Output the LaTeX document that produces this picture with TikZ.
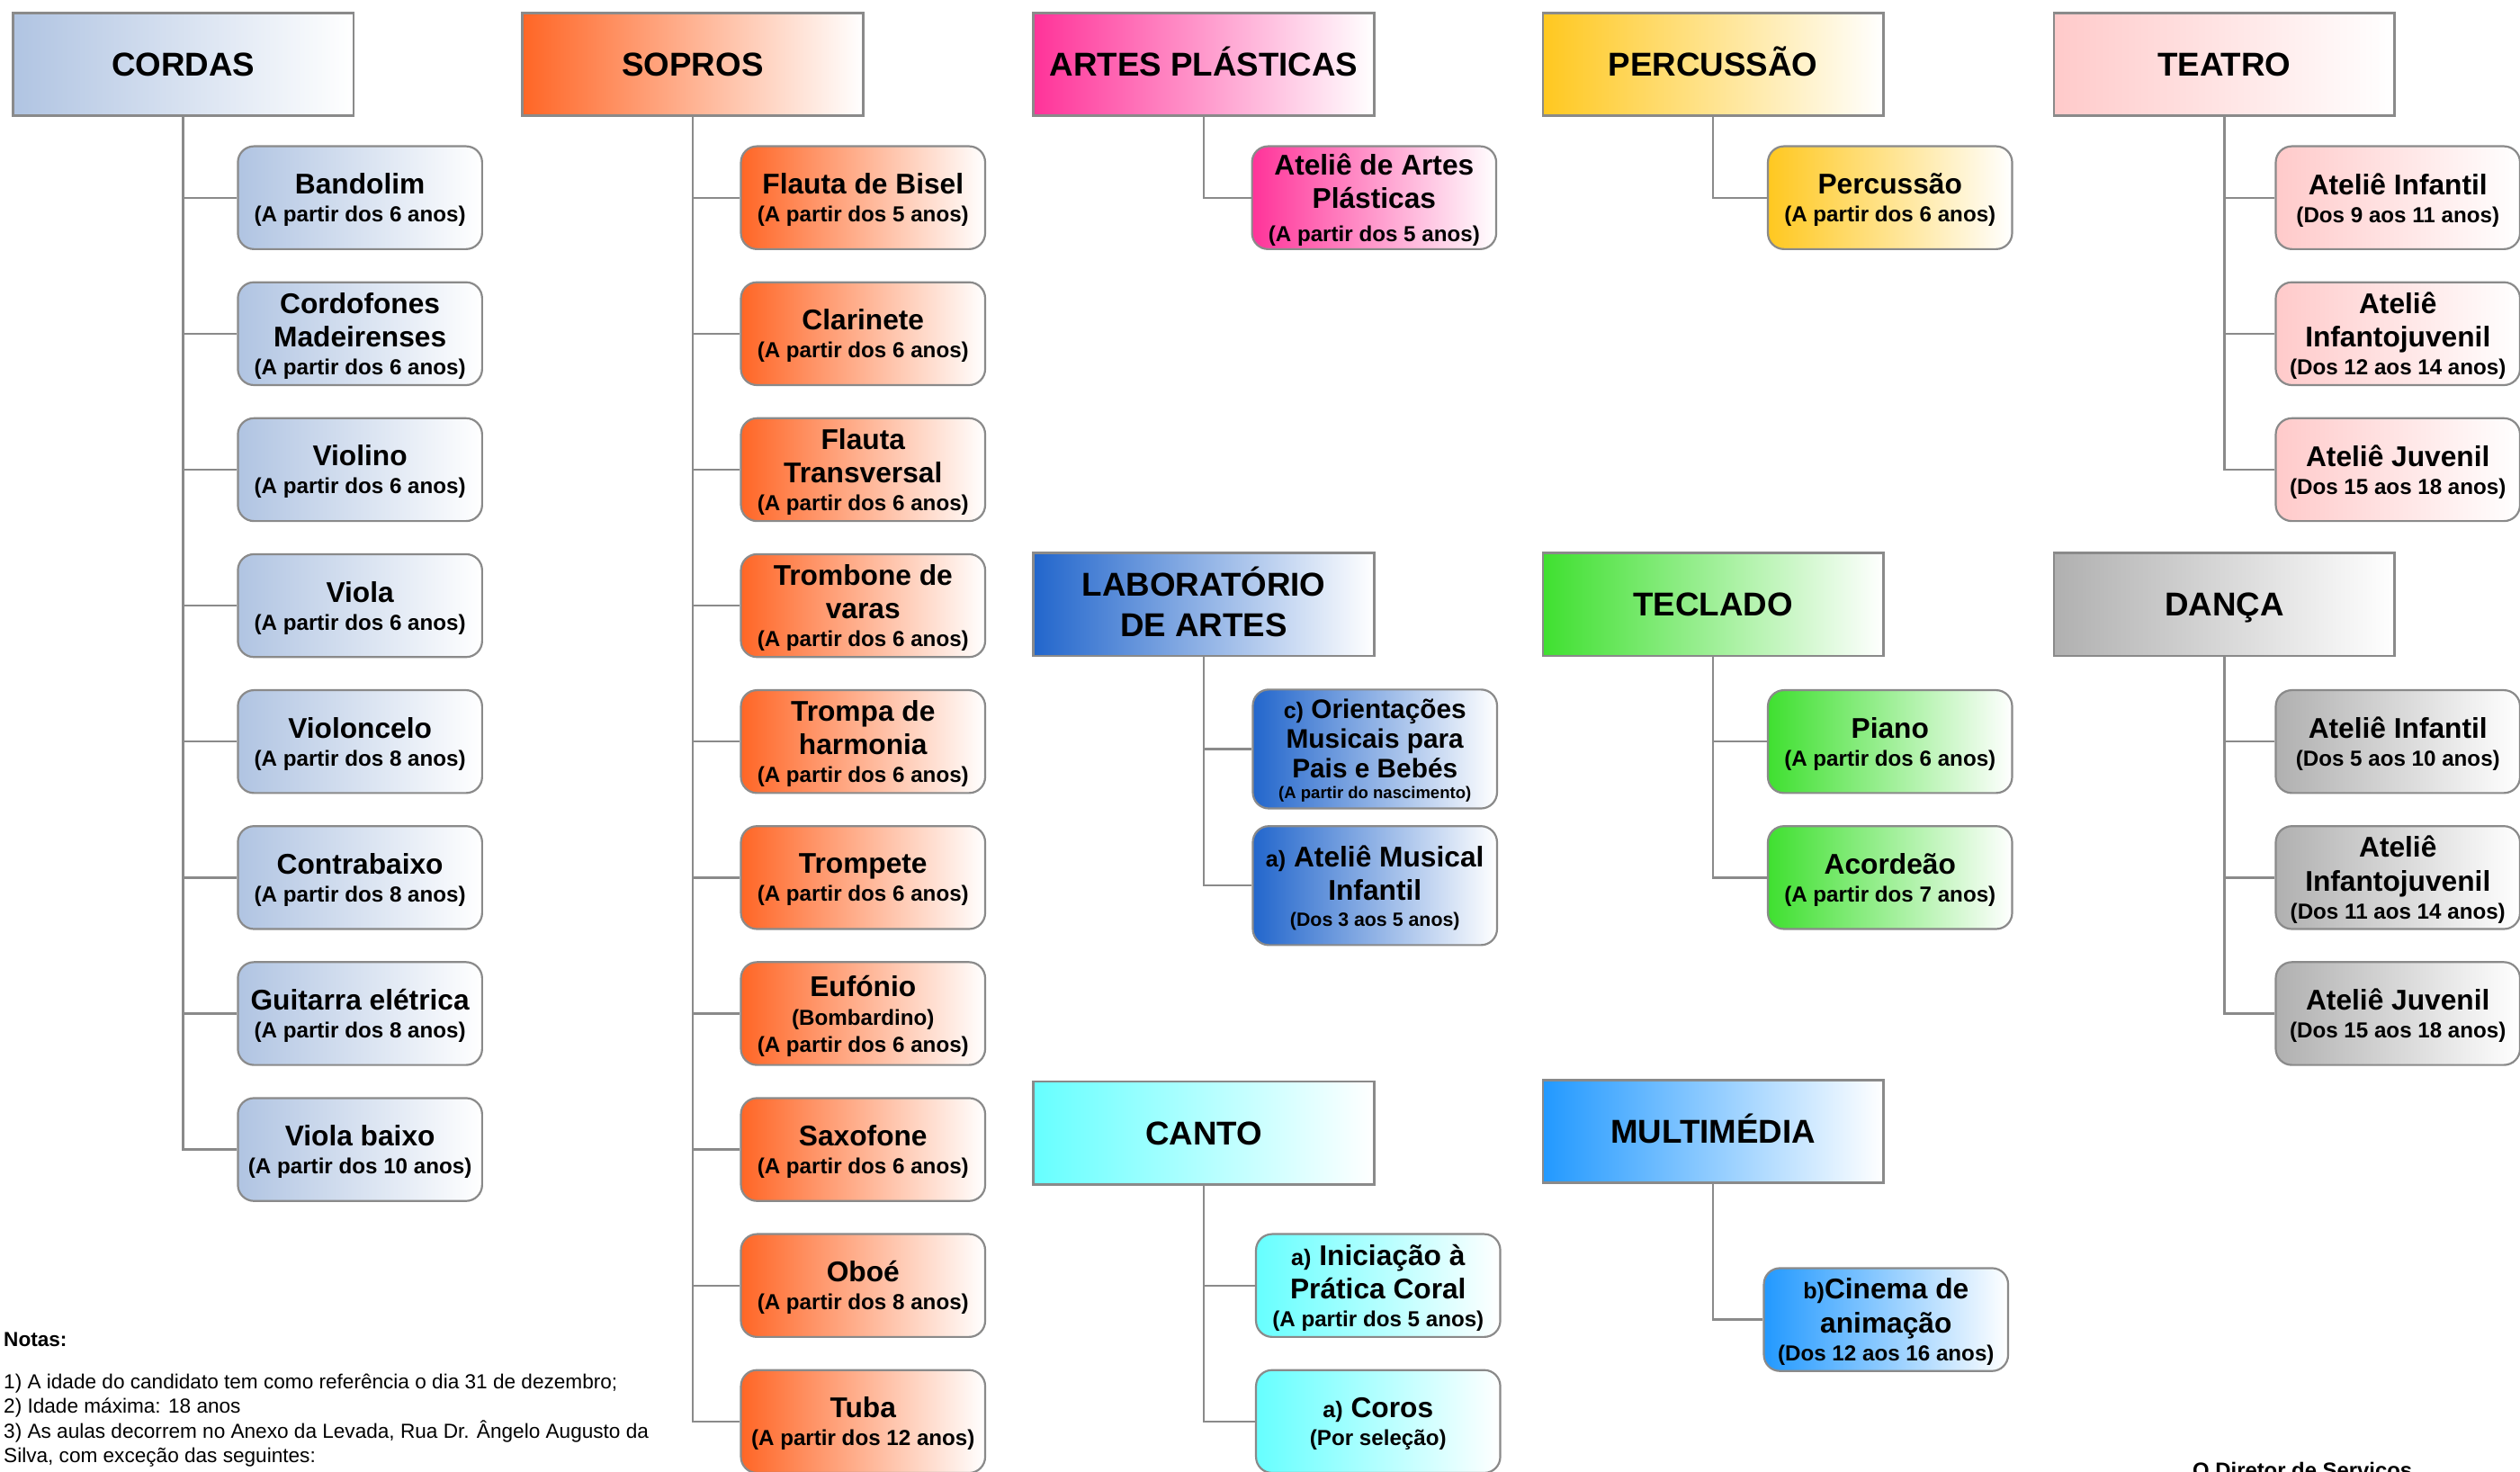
\documentclass[tikz,border=0pt]{standalone}
\usepackage{fontspec}
\setmainfont{Liberation Sans}
\definecolor{lineg}{HTML}{8A8A8A}
\definecolor{cCord}{HTML}{B0C4E2}
\definecolor{cSop}{HTML}{FF6626}
\definecolor{cArt}{HTML}{FF3399}
\definecolor{cPerc}{HTML}{FFC820}
\definecolor{cTea}{HTML}{FFCACA}
\definecolor{cLab}{HTML}{2266CC}
\definecolor{cTec}{HTML}{3FE030}
\definecolor{cDan}{HTML}{B0B0B0}
\definecolor{cCan}{HTML}{66FFFF}
\definecolor{cMul}{HTML}{2299FF}
\newcommand\sub[1]{{\fontsize{7.7}{9}\selectfont #1}}
\newcommand\pre[1]{{\fontsize{8}{9}\selectfont #1}}
\begin{document}
\begin{tikzpicture}[x=0.02cm,y=-0.02cm,
  fillc/.style={left color=#1, right color=white},
  hdr/.style={draw=lineg, line width=0.8pt, minimum width=4.24cm, minimum height=1.28cm,
    inner sep=0pt, align=center, font=\fontsize{11.7}{14.2}\selectfont\bfseries,
    text height=8.4pt, text depth=0pt},
  kid/.style={draw=lineg, line width=0.7pt, rounded corners=0.2cm, minimum width=3.04cm,
    minimum height=1.28cm, inner sep=0pt, align=center, font=\fontsize{10.1}{11.9}\selectfont\bfseries,
    text depth=0pt},
  tall/.style={minimum height=1.48cm},
  conn/.style={draw=lineg, line width=0.75pt},
  note/.style={anchor=base west, inner sep=0pt, font=\fontsize{7.2}{8.6}\selectfont}]
\useasboundingbox (0,0) rectangle (1568,915.3);

% headers
\node[hdr, fillc=cCord] (cordas) at (114,40) {CORDAS};
\node[hdr, fillc=cSop] (sopros) at (431,40) {SOPROS};
\node[hdr, fillc=cArt] (artes) at (749,40) {ARTES PLÁSTICAS};
\node[hdr, fillc=cPerc] (perc) at (1066,40) {PERCUSSÃO};
\node[hdr, fillc=cTea] (teatro) at (1384,40) {TEATRO};
\node[hdr, fillc=cLab, text height=22.6pt] (lab) at (749,376) {LABORATÓRIO\\DE ARTES};
\node[hdr, fillc=cTec] (tecl) at (1066,376) {TECLADO};
\node[hdr, fillc=cDan] (danca) at (1384,376) {DANÇA};
\node[hdr, fillc=cCan] (canto) at (749,705) {CANTO};
\node[hdr, fillc=cMul] (multi) at (1066,704) {MULTIMÉDIA};

% CORDAS
\node[kid, fillc=cCord] (c1) at (224,123) {Bandolim\\[-2pt]\sub{(A partir dos 6 anos)}};
\node[kid, fillc=cCord] (c2) at (224,207.6) {Cordofones\\Madeirenses\\[-2pt]\sub{(A partir dos 6 anos)}};
\node[kid, fillc=cCord] (c3) at (224,292.2) {Violino\\[-2pt]\sub{(A partir dos 6 anos)}};
\node[kid, fillc=cCord] (c4) at (224,376.8) {Viola\\[-2pt]\sub{(A partir dos 6 anos)}};
\node[kid, fillc=cCord] (c5) at (224,461.4) {Violoncelo\\[-2pt]\sub{(A partir dos 8 anos)}};
\node[kid, fillc=cCord] (c6) at (224,546) {Contrabaixo\\[-2pt]\sub{(A partir dos 8 anos)}};
\node[kid, fillc=cCord] (c7) at (224,630.6) {Guitarra elétrica\\[-2pt]\sub{(A partir dos 8 anos)}};
\node[kid, fillc=cCord] (c8) at (224,715.2) {Viola baixo\\[-2pt]\sub{(A partir dos 10 anos)}};
\foreach \k in {1,...,8} \draw[conn] (cordas.south) |- (c\k.west);

% SOPROS
\node[kid, fillc=cSop] (s1) at (537,123) {Flauta de Bisel\\[-2pt]\sub{(A partir dos 5 anos)}};
\node[kid, fillc=cSop] (s2) at (537,207.6) {Clarinete\\[-2pt]\sub{(A partir dos 6 anos)}};
\node[kid, fillc=cSop] (s3) at (537,292.2) {Flauta\\Transversal\\[-2pt]\sub{(A partir dos 6 anos)}};
\node[kid, fillc=cSop] (s4) at (537,376.8) {Trombone de\\varas\\[-2pt]\sub{(A partir dos 6 anos)}};
\node[kid, fillc=cSop] (s5) at (537,461.4) {Trompa de\\harmonia\\[-2pt]\sub{(A partir dos 6 anos)}};
\node[kid, fillc=cSop] (s6) at (537,546) {Trompete\\[-2pt]\sub{(A partir dos 6 anos)}};
\node[kid, fillc=cSop] (s7) at (537,630.6) {Eufónio\\[-1.5pt]\sub{(Bombardino)}\\[-2.5pt]\sub{(A partir dos 6 anos)}};
\node[kid, fillc=cSop] (s8) at (537,715.2) {Saxofone\\[-2pt]\sub{(A partir dos 6 anos)}};
\node[kid, fillc=cSop] (s9) at (537,799.8) {Oboé\\[-2pt]\sub{(A partir dos 8 anos)}};
\node[kid, fillc=cSop] (s10) at (537,884.4) {Tuba\\[-2pt]\sub{(A partir dos 12 anos)}};
\foreach \k in {1,...,10} \draw[conn] (sopros.south) |- (s\k.west);

% ARTES PLASTICAS
\node[kid, fillc=cArt] (a1) at (855,123) {Ateliê de Artes\\Plásticas\\[0pt]\sub{(A partir dos 5 anos)}};
\draw[conn] (artes.south) |- (a1.west);

% PERCUSSAO
\node[kid, fillc=cPerc] (p1) at (1176,123) {Percussão\\[-2pt]\sub{(A partir dos 6 anos)}};
\draw[conn] (perc.south) |- (p1.west);

% TEATRO
\node[kid, fillc=cTea] (t1) at (1492,123) {Ateliê Infantil\\[-2pt]\sub{(Dos 9 aos 11 anos)}};
\node[kid, fillc=cTea] (t2) at (1492,207.6) {Ateliê\\Infantojuvenil\\[-2pt]\sub{(Dos 12 aos 14 anos)}};
\node[kid, fillc=cTea] (t3) at (1492,292.2) {Ateliê Juvenil\\[-2pt]\sub{(Dos 15 aos 18 anos)}};
\foreach \k in {1,2,3} \draw[conn] (teatro.south) |- (t\k.west);

% LABORATORIO
\node[kid, tall, fillc=cLab, font=\fontsize{9.5}{10.5}\selectfont\bfseries] (l1) at (855.5,466)
  {\pre{c)} Orientações\\Musicais para\\Pais e Bebés\\[-3pt]{\fontsize{5.9}{7}\selectfont (A partir do nascimento)}};
\node[kid, tall, fillc=cLab] (l2) at (855.5,551)
  {\pre{a)} Ateliê Musical\\Infantil\\[-2.7pt]{\fontsize{6.8}{8}\selectfont (Dos 3 aos 5 anos)}};
\foreach \k in {1,2} \draw[conn] (lab.south) |- (l\k.west);

% TECLADO
\node[kid, fillc=cTec] (k1) at (1176,461.4) {Piano\\[-2pt]\sub{(A partir dos 6 anos)}};
\node[kid, fillc=cTec] (k2) at (1176,546) {Acordeão\\[-2pt]\sub{(A partir dos 7 anos)}};
\foreach \k in {1,2} \draw[conn] (tecl.south) |- (k\k.west);

% DANCA
\node[kid, fillc=cDan] (d1) at (1492,461.4) {Ateliê Infantil\\[-2pt]\sub{(Dos 5 aos 10 anos)}};
\node[kid, fillc=cDan] (d2) at (1492,546) {Ateliê\\Infantojuvenil\\[-2pt]\sub{(Dos 11 aos 14 anos)}};
\node[kid, fillc=cDan] (d3) at (1492,630.6) {Ateliê Juvenil\\[-2pt]\sub{(Dos 15 aos 18 anos)}};
\foreach \k in {1,2,3} \draw[conn] (danca.south) |- (d\k.west);

% CANTO
\node[kid, fillc=cCan] (v1) at (857.5,799.8) {\pre{a)} Iniciação à\\Prática Coral\\[-2pt]\sub{(A partir dos 5 anos)}};
\node[kid, fillc=cCan] (v2) at (857.5,884.4) {\pre{a)} Coros\\[-2pt]\sub{(Por seleção)}};
\foreach \k in {1,2} \draw[conn] (canto.south) |- (v\k.west);

% MULTIMEDIA
\node[kid, fillc=cMul] (m1) at (1173.5,821) {\pre{b)}Cinema de\\animação\\[-2pt]\sub{(Dos 12 aos 16 anos)}};
\draw[conn] (multi.south) |- (m1.west);

% notes
\node[note, font=\fontsize{7.2}{8.6}\selectfont\bfseries] (notas) at (2,838) {Notas:};
\node[note] (n1) at (2,864) {1) A idade do candidato tem como referência o dia 31 de dezembro;};
\node[note] (n2) at (2,879.3) {2) Idade máxima: 18 anos};
\node[note] (n3) at (2,894.6) {3) As aulas decorrem no Anexo da Levada, Rua Dr. Ângelo Augusto da};
\node[note] (n4) at (2,910) {Silva, com exceção das seguintes:};
\node[note, font=\fontsize{7.6}{9}\selectfont\bfseries] (dir) at (1364,919.5) {O Diretor de Serviços};
\end{tikzpicture}
\end{document}
